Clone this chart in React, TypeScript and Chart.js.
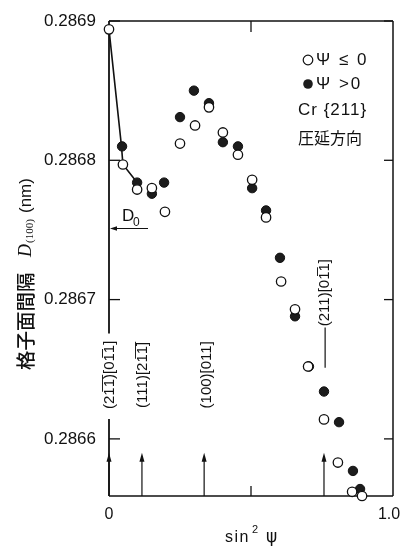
import React, { useEffect, useRef } from "react";
import { Chart, registerables } from "chart.js";
Chart.register(...registerables);

const xTicks = [0, 0.5, 1.0];
const yTicks = [0.2866, 0.2867, 0.2868, 0.2869];

const openX = [0, 0.049, 0.099, 0.151, 0.197, 0.25, 0.303, 0.352, 0.401, 0.454, 0.504, 0.553, 0.606, 0.655, 0.701, 0.757, 0.806, 0.856, 0.891];
const openY = [0.286894, 0.286797, 0.286779, 0.28678, 0.286763, 0.286812, 0.286825, 0.286838, 0.28682, 0.286804, 0.286786, 0.286759, 0.286713, 0.286693, 0.286652, 0.286614, 0.286583, 0.286562, 0.286559];
const filledX = [0.046, 0.099, 0.151, 0.194, 0.25, 0.299, 0.352, 0.401, 0.454, 0.504, 0.553, 0.602, 0.655, 0.704, 0.757, 0.81, 0.859, 0.884];
const filledY = [0.28681, 0.286784, 0.286776, 0.286784, 0.286831, 0.28685, 0.286841, 0.286813, 0.28681, 0.28678, 0.286764, 0.28673, 0.286688, 0.286652, 0.286634, 0.286612, 0.286577, 0.286564];
const curveX = [0, 0.044, 0.049, 0.099];
const curveY = [0.286894, 0.28681, 0.286797, 0.286784];

const D0 = 0.286751;
const orientLabels = ["(21\u03051\u0305)[01\u03051]", "(111)[21\u03051\u0305]", "(100)[011]", "(211)[01\u03051]"];
const labelX = [0.003, 0.12, 0.345, 0.761];
const labelY = [0.286646, 0.286646, 0.286646, 0.286705];
const arrowX = [0, 0.116, 0.335, 0.757];
const arrowTipY = 0.28659;
const leaderY = [0.28668, 0.286651];

const INK = "#111";

function seg(ctx: CanvasRenderingContext2D, x1: number, y1: number, x2: number, y2: number) {
  ctx.beginPath();
  ctx.moveTo(x1, y1);
  ctx.lineTo(x2, y2);
  ctx.stroke();
}

const decor = {
  id: "decor",
  beforeDatasetsDraw(chart: any) {
    const { ctx, chartArea: ca, scales } = chart;
    const x = scales.x, y = scales.y;
    ctx.save();
    ctx.strokeStyle = INK;
    ctx.fillStyle = INK;
    ctx.lineWidth = 1.5;
    seg(ctx, ca.left, ca.top, ca.right, ca.top);
    seg(ctx, ca.right, ca.top, ca.right, ca.bottom);
    seg(ctx, ca.left, ca.bottom, ca.right, ca.bottom);
    // left axis with gap for first label
    ctx.font = '15px "Liberation Sans"';
    const w0 = ctx.measureText(orientLabels[0]).width;
    const cy0 = y.getPixelForValue(labelY[0]);
    ctx.lineWidth = 1.8;
    seg(ctx, ca.left, ca.top, ca.left, cy0 - w0 / 2 - 7);
    seg(ctx, ca.left, cy0 + w0 / 2 + 10, ca.left, ca.bottom);
    ctx.lineWidth = 1.3;
    yTicks.forEach((v) => {
      const py = y.getPixelForValue(v);
      seg(ctx, ca.left, py, ca.left + 11, py);
      seg(ctx, ca.right - 9, py, ca.right, py);
    });
    const px5 = x.getPixelForValue(0.5);
    seg(ctx, px5, ca.top, px5, ca.top + 11);
    seg(ctx, px5, ca.bottom - 10, px5, ca.bottom);

    // curve
    ctx.lineWidth = 1.6;
    ctx.beginPath();
    curveX.forEach((v, i) => {
      const px = x.getPixelForValue(v), py = y.getPixelForValue(curveY[i]);
      if (i === 0) ctx.moveTo(px, py); else ctx.lineTo(px, py);
    });
    ctx.stroke();

    // arrows
    ctx.lineWidth = 1.2;
    arrowX.forEach((v) => {
      const px = x.getPixelForValue(v);
      const tip = y.getPixelForValue(arrowTipY);
      seg(ctx, px, ca.bottom, px, tip + 4);
      ctx.beginPath();
      ctx.moveTo(px, tip);
      ctx.lineTo(px - 2.5, tip + 9);
      ctx.lineTo(px + 2.5, tip + 9);
      ctx.closePath();
      ctx.fill();
    });

    // orientation labels
    ctx.font = '15px "Liberation Sans"';
    ctx.textAlign = "center";
    ctx.textBaseline = "middle";
    orientLabels.forEach((t, i) => {
      ctx.save();
      ctx.translate(x.getPixelForValue(labelX[i]), y.getPixelForValue(labelY[i]));
      ctx.rotate(-Math.PI / 2);
      ctx.fillText(t, 0, 0);
      ctx.restore();
    });
    // leader for last label
    const lx = x.getPixelForValue(labelX[3]);
    seg(ctx, lx, y.getPixelForValue(leaderY[0]), lx, y.getPixelForValue(leaderY[1]));

    // D0 marker
    const dy = y.getPixelForValue(D0);
    ctx.lineWidth = 1.1;
    seg(ctx, ca.left + 6, dy, ca.left + 39, dy);
    ctx.beginPath();
    ctx.moveTo(ca.left + 1, dy);
    ctx.lineTo(ca.left + 8, dy - 2.2);
    ctx.lineTo(ca.left + 8, dy + 2.2);
    ctx.closePath();
    ctx.fill();
    ctx.textAlign = "left";
    ctx.textBaseline = "alphabetic";
    ctx.font = '17px "Liberation Sans"';
    ctx.fillText("D", ca.left + 13, dy - 8);
    ctx.font = '12px "Liberation Sans"';
    ctx.fillText("0", ca.left + 24, dy - 3);
    ctx.restore();
  },
  afterDraw(chart: any) {
    const { ctx, chartArea: ca } = chart;
    ctx.save();
    ctx.fillStyle = INK;
    ctx.strokeStyle = INK;
    // legend
    const lx = ca.left + 199;
    ctx.lineWidth = 1.2;
    ctx.beginPath();
    ctx.arc(lx, 60, 4.8, 0, Math.PI * 2);
    ctx.fillStyle = "#fff";
    ctx.fill();
    ctx.stroke();
    ctx.fillStyle = "#1c1c1c";
    ctx.beginPath();
    ctx.arc(lx, 84, 4.8, 0, Math.PI * 2);
    ctx.fill();
    ctx.fillStyle = INK;
    ctx.textBaseline = "middle";
    ctx.textAlign = "left";
    ctx.font = '17px "Liberation Sans"';
    (ctx as any).letterSpacing = "2px";
    ctx.fillText("\u03A8 \u2264 0", lx + 8, 60);
    ctx.fillText("\u03A8 >0", lx + 8, 84);
    (ctx as any).letterSpacing = "1px";
    ctx.fillText("Cr {211}", ca.left + 189, 110);
    (ctx as any).letterSpacing = "0px";
    ctx.font = '16px "Noto Sans CJK JP"';
    ctx.fillText("圧延方向", ca.left + 189, 138);

    // y title
    ctx.save();
    ctx.translate(26, 370);
    ctx.rotate(-Math.PI / 2);
    ctx.textBaseline = "middle";
    ctx.font = '500 19.5px "Noto Sans CJK JP"';
    ctx.fillText("格子面間隔", 0, 0);
    ctx.font = 'italic 18px "Liberation Serif"';
    ctx.fillText("D", 113, 0);
    ctx.font = '11px "Liberation Serif"';
    ctx.fillText("(100)", 127, 4);
    ctx.font = '17px "Liberation Sans"';
    ctx.fillText("(nm)", 157, 0);
    ctx.restore();

    // x title
    ctx.textBaseline = "alphabetic";
    ctx.font = '16px "Liberation Sans"';
    (ctx as any).letterSpacing = "1.5px";
    ctx.fillText("sin", 225, 542);
    (ctx as any).letterSpacing = "0px";
    ctx.font = '11px "Liberation Sans"';
    ctx.fillText("2", 252, 533);
    ctx.font = '17px "DejaVu Sans"';
    ctx.fillText("\u03C8", 266, 542);
    ctx.restore();
  },
};

export default function App() {
  const ref = useRef<HTMLCanvasElement | null>(null);
  useEffect(() => {
    if (!ref.current) return;
    Chart.defaults.font.family = '"Liberation Sans", Arial, sans-serif';
    Chart.defaults.color = INK;
    const chart = new Chart(ref.current, {
      type: "scatter",
      data: {
        datasets: [
          {
            label: "psi<=0",
            data: openX.map((v, i) => ({ x: v, y: openY[i] })),
            pointRadius: 4.7,
            pointBackgroundColor: "#fff",
            pointBorderColor: INK,
            pointBorderWidth: 1.3,
            order: 0,
            clip: false as any,
          },
          {
            label: "psi>0",
            data: filledX.map((v, i) => ({ x: v, y: filledY[i] })),
            pointRadius: 4.7,
            pointBackgroundColor: "#1c1c1c",
            pointBorderColor: "#111",
            pointBorderWidth: 1,
            order: 1,
            clip: false as any,
          },
        ],
      },
      options: {
        animation: false,
        responsive: false,
        devicePixelRatio: 1,
        layout: { padding: { top: 21, right: 8, left: 0, bottom: 0 } },
        plugins: { legend: { display: false }, tooltip: { enabled: false } },
        scales: {
          x: {
            type: "linear",
            min: 0,
            max: 1,
            grid: { display: false, drawTicks: false },
            border: { display: false },
            afterBuildTicks: (s: any) => {
              s.ticks = xTicks.map((v) => ({ value: v }));
            },
            afterFit: (s: any) => {
              s.height = 50;
              s.paddingLeft = 0;
              s.paddingRight = 0;
            },
            ticks: {
              padding: 9,
              autoSkip: false,
              maxRotation: 0,
              font: { size: 16 },
              color: INK,
              callback: (v: any) => (v === 0 ? "0" : v === 1 ? "1.0\u2002" : ""),
            },
          },
          y: {
            type: "linear",
            min: 0.286559,
            max: 0.2869,
            grid: { display: false, drawTicks: false },
            border: { display: false },
            afterBuildTicks: (s: any) => {
              s.ticks = yTicks.map((v) => ({ value: v }));
            },
            afterFit: (s: any) => {
              s.width = 109;
              s.paddingTop = 0;
              s.paddingBottom = 0;
            },
            ticks: {
              padding: 13,
              autoSkip: false,
              font: { size: 17 },
              color: INK,
              callback: (v: any) => Number(v).toFixed(4),
            },
          },
        },
      },
      plugins: [decor],
    });
    return () => chart.destroy();
  }, []);
  return (
    <div style={{ position: "fixed", left: 0, top: 0, width: 401, height: 546, background: "#fff" }}>
      <canvas ref={ref} width={401} height={546} style={{ display: "block" }} />
    </div>
  );
}
